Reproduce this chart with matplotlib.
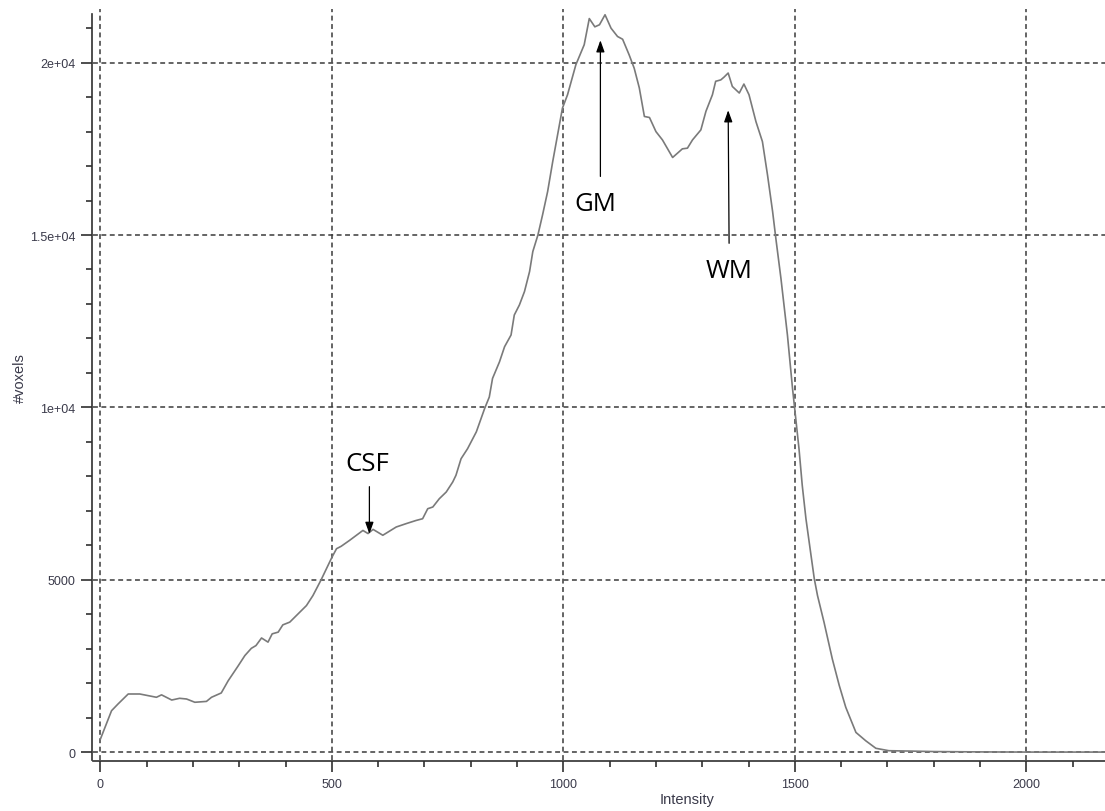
import matplotlib
matplotlib.use("Agg")
import matplotlib.pyplot as plt
from matplotlib.ticker import MultipleLocator, FixedLocator, FixedFormatter

# histogram curve (intensity, #voxels)
intensity = [0, 24, 38, 60, 85, 121, 132, 154, 171, 186, 204, 229, 240, 261, 276,
             297, 312, 326, 336, 348, 362, 371, 384, 394, 409, 445, 459, 477, 500,
             510, 520, 538, 560, 567, 578, 589, 610, 639, 661, 682, 696, 707, 718,
             732, 747, 761, 768, 779, 793, 812, 830, 840, 847, 862, 873, 887, 894,
             905, 916, 927, 934, 945, 955, 966, 977, 998, 1009, 1027, 1045, 1056,
             1068, 1078, 1090, 1103, 1117, 1128, 1142, 1153, 1164, 1175, 1186, 1200,
             1214, 1236, 1247, 1257, 1268, 1279, 1297, 1308, 1322, 1329, 1340, 1347,
             1356, 1365, 1380, 1390, 1401, 1416, 1430, 1441, 1452, 1459, 1470, 1484,
             1495, 1509, 1516, 1524, 1534, 1542, 1549, 1563, 1581, 1596, 1610, 1632,
             1653, 1675, 1703, 1746, 1800, 1900, 2000, 2100, 2170]
voxels = [378, 1200, 1395, 1685, 1685, 1590, 1660, 1510, 1560, 1540, 1445, 1470,
          1590, 1715, 2070, 2490, 2800, 3010, 3090, 3310, 3190, 3430, 3480, 3690,
          3770, 4250, 4540, 5005, 5650, 5900, 5970, 6140, 6360, 6430, 6340, 6460,
          6290, 6530, 6630, 6720, 6770, 7060, 7110, 7350, 7545, 7835, 8030, 8510,
          8800, 9290, 9970, 10300, 10840, 11320, 11760, 12100, 12680, 12970, 13360,
          13940, 14520, 15000, 15580, 16260, 17130, 18680, 19070, 19940, 20520,
          21280, 21040, 21100, 21390, 21000, 20760, 20680, 20230, 19840, 19270,
          18440, 18410, 18000, 17760, 17250, 17380, 17500, 17520, 17760, 18050,
          18590, 19070, 19460, 19500, 19580, 19700, 19310, 19120, 19380, 19070,
          18290, 17710, 16740, 15680, 14900, 13740, 12100, 10550, 8800, 7740, 6770,
          5800, 5030, 4540, 3770, 2700, 1930, 1300, 570, 330, 110, 40, 30, 15, 5,
          0, 0, 0]

xticks = [0, 500, 1000, 1500, 2000]
yticks = [0, 5000, 10000, 15000, 20000]
ytick_labels = ["0", "5000", "1e+04", "1.5e+04", "2e+04"]

# annotations: label, text position, arrow tail, arrow head
labels = ["GM", "WM", "CSF"]
text_pos = [(1069, 15920), (1358, 13970), (577, 8370)]
arrow_tail = [(1080, 16700), (1358, 14760), (581, 7700)]
arrow_head = [(1080, 20650), (1356, 18620), (581, 6330)]

fig = plt.figure(figsize=(11.05, 8.12), dpi=100)
ax = fig.add_axes([0.0846, 0.0628, 0.9154, 0.925])

ax.plot(intensity, voxels, color="#7a7a7a", lw=1.2, zorder=3)

ax.set_xlim(-15, 2170)
ax.set_ylim(-230, 21560)

ax.xaxis.set_major_locator(FixedLocator(xticks))
ax.xaxis.set_minor_locator(MultipleLocator(100))
ax.yaxis.set_major_locator(FixedLocator(yticks))
ax.yaxis.set_major_formatter(FixedFormatter(ytick_labels))
ax.yaxis.set_minor_locator(MultipleLocator(1000))

ax.grid(True, which="major", color="#3a3a3a", linestyle=(0, (3.2, 2.3)), lw=1.1)
for s in ["top", "right"]:
    ax.spines[s].set_visible(False)
for s in ["left", "bottom"]:
    ax.spines[s].set_color("#303030")
    ax.spines[s].set_linewidth(1.2)
    ax.spines[s].set_position(("outward", 1))
ax.spines["left"].set_bounds(-230, 21400)

ax.tick_params(which="major", length=8, width=1.2, color="#303030",
               labelsize=9, labelcolor="#3a3a4a", pad=4)
ax.tick_params(which="minor", length=4.5, width=1.2, color="#303030")
for t in ax.get_xticklabels() + ax.get_yticklabels():
    t.set_family(["Liberation Sans", "DejaVu Sans"])

fig.text(0.6217, 0.0148, "Intensity", ha="center", va="center", fontsize=10.5,
         color="#3a3a4a", family=["Liberation Sans", "DejaVu Sans"])
fig.text(0.018, 0.5345, "#voxels", ha="center", va="center", rotation=90,
         fontsize=10.5, color="#3a3a4a", family=["Liberation Sans", "DejaVu Sans"])

for lab, tp, tail, head in zip(labels, text_pos, arrow_tail, arrow_head):
    ax.annotate("", xy=head, xytext=tail,
                arrowprops=dict(arrowstyle="-|>,head_length=0.7,head_width=0.25",
                                color="black", lw=0.9, shrinkA=0, shrinkB=0),
                zorder=4)
    ax.text(tp[0], tp[1], lab, ha="center", va="center", fontsize=18.5,
            color="black", family=["Open Sans", "DejaVu Sans"], zorder=4)

fig.savefig("out.png", dpi=100)
